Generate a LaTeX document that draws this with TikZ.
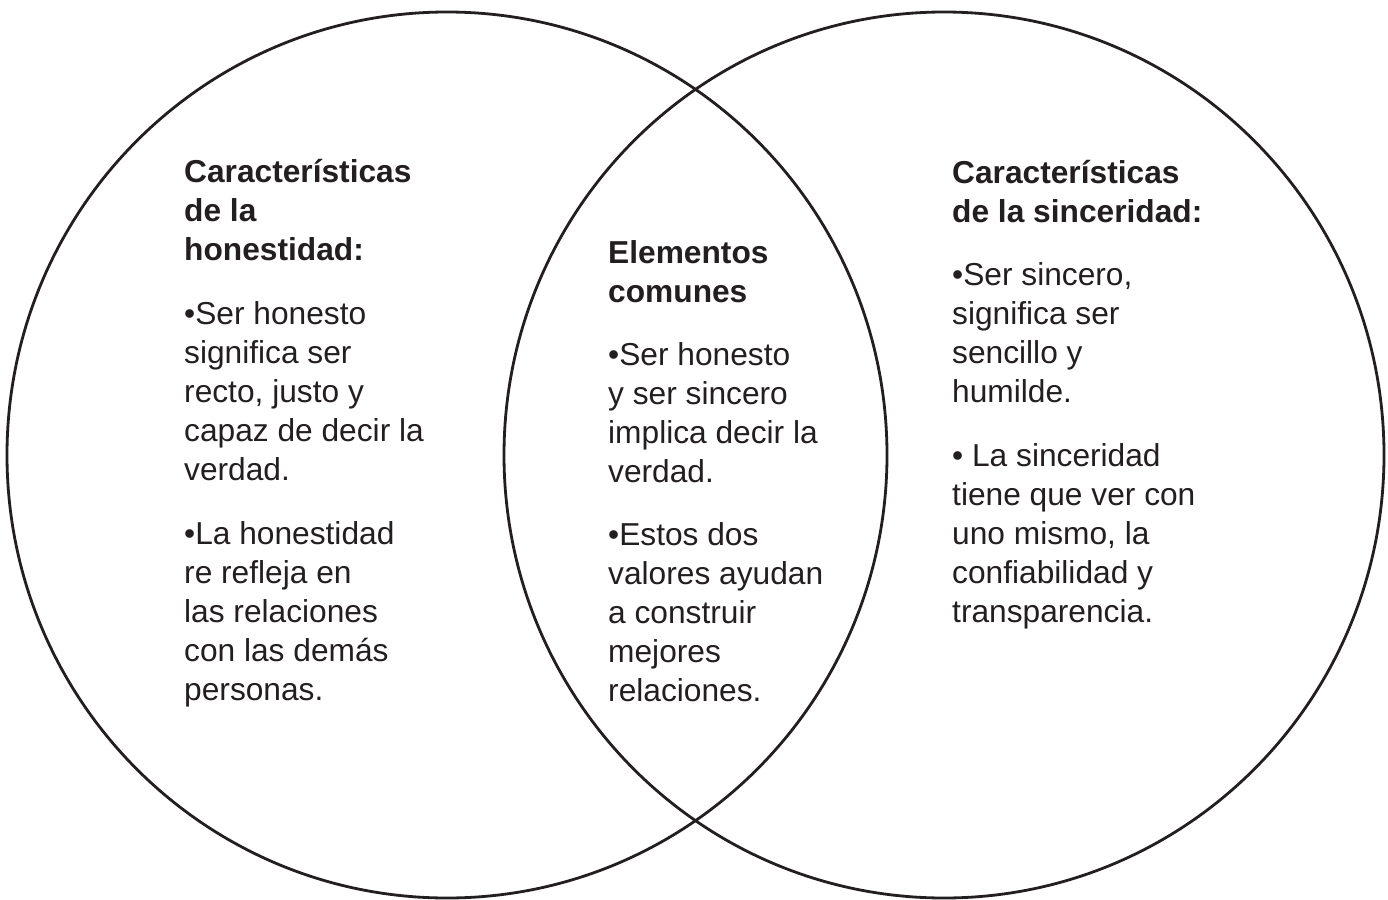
\documentclass[tikz,border=0pt]{standalone}
\usetikzlibrary{shapes.geometric}
\usepackage{fontspec}
\setmainfont{Liberation Sans}
\definecolor{ink}{HTML}{231F20}
\begin{document}
\begin{tikzpicture}[x=1pt,y=-1pt,
  ring/.style={ellipse,draw=ink,line width=2.8pt,minimum width=880pt,minimum height=886pt,inner sep=0pt},
  txt/.style={anchor=base west,align=left,inner sep=0pt,text=ink,font=\fontsize{31.7}{39}\selectfont},
  head/.style={txt,font=\fontsize{31.7}{39}\selectfont\bfseries}]
\useasboundingbox (0,0) rectangle (1388,899);
\fill[white] (0,0) rectangle (1388,899);
\node[ring] (L) at (447,455) {};
\node[ring] (R) at (944,455) {};
% left (anchor = baseline of last line)
\node[head] (lh) at (184,260) {Características\\de la\\honestidad:};
\node[txt] (l1) at (184,480) {•Ser honesto\\significa ser\\recto, justo y\\capaz de decir la\\verdad.};
\node[txt] (l2) at (184,700) {•La honestidad\\re refleja en\\las relaciones\\con las demás\\personas.};
% middle
\node[head] (mh) at (608,302) {Elementos\\comunes};
\node[txt] (m1) at (608,482) {•Ser honesto\\y ser sincero\\implica decir la\\verdad.};
\node[txt] (m2) at (608,701) {•Estos dos\\valores ayudan\\a construir\\mejores\\relaciones.};
% right
\node[head] (rh) at (952,222) {Características\\de la sinceridad:};
\node[txt] (r1) at (952,402) {•Ser sincero,\\significa ser\\sencillo y\\humilde.};
\node[txt] (r2) at (952,622) {• La sinceridad\\tiene que ver con\\uno mismo, la\\confiabilidad y\\transparencia.};
\end{tikzpicture}
\end{document}
